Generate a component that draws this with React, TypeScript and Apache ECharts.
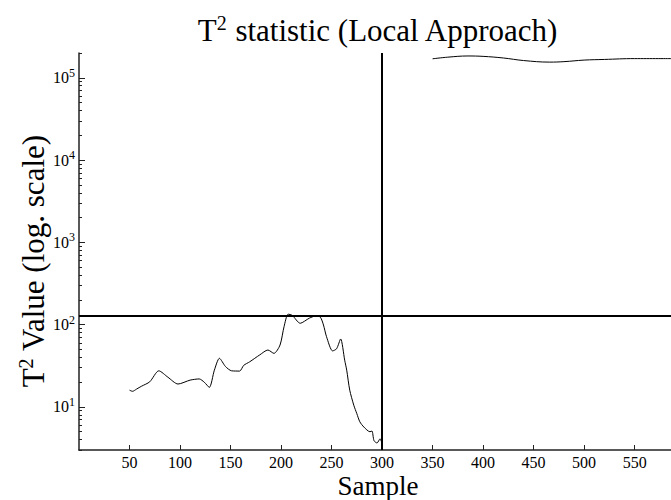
import React, { useEffect, useRef } from "react";
import * as echarts from "echarts";

// ---- data ----
const xTickValues = [50, 100, 150, 200, 250, 300, 350, 400, 450, 500, 550];
const yMajorTicks = [10, 100, 1000, 10000, 100000];
const xRange = [0, 586];
const yRange = [3, 200000];

const earlySamples = [
  50, 53, 57, 62, 70, 79, 88, 98, 110, 119, 124, 129, 134, 139, 145, 151, 159, 163, 169, 179,
  187, 193, 199, 203, 207, 211, 219, 228, 235, 239, 242, 245, 251, 255, 259, 263, 265, 268, 272,
  275, 278, 282, 288, 290, 292, 295, 298, 300,
];
const earlyValues = [
  16, 15.5, 16.5, 17.9, 20.2, 27.5, 23, 19, 21.2, 21.9, 20, 17.3, 28, 39, 31, 27.5, 27.3, 32, 35.4, 43,
  49.2, 44.8, 56.6, 95, 134, 130, 104, 120, 128, 123, 99, 71.5, 48, 51, 67, 37, 28, 16, 10.5,
  8.3, 6.6, 5.7, 5.0, 5.1, 3.9, 3.65, 4.1, 3.6,
];

const lateSamples = [350, 365, 385, 400, 420, 440, 466, 480, 500, 520, 550, 586];
const lateValues = [170000, 178000, 184000, 182000, 174000, 162000, 155000, 157000, 164000, 167000, 171000, 171000];

const thresholdValue = [127];
const faultSample = [300];

const titleText = ["T", "2", " statistic (Local Approach)"];
const xName = "Sample";
const yNameText = ["T", "2", " Value (log. scale)"];

const FONT = "Liberation Serif";

function minorLogTicks(lo: number, hi: number): number[] {
  const out: number[] = [];
  for (let d = 1; d <= 100000; d *= 10) {
    for (let m = 2; m <= 9; m++) {
      const v = m * d;
      if (v >= lo && v <= hi) out.push(v);
    }
  }
  return out;
}

export default function App() {
  const ref = useRef<HTMLDivElement>(null);

  useEffect(() => {
    if (!ref.current) return;
    const chart = echarts.init(ref.current, null, { renderer: "svg" });

    const supLabel = (v: number) => `{base|10}{sup|${Math.round(Math.log10(v))}}`;

    const option: any = {
      animation: false,
      backgroundColor: "#fff",
      grid: { left: 79, right: 0, top: 53, bottom: 50, containLabel: false },
      xAxis: {
        type: "value",
        min: xRange[0],
        max: xRange[1],
        splitLine: { show: false },
        axisLine: { show: true, onZero: false, lineStyle: { color: "#222", width: 1.5 } },
        axisTick: {
          show: true,
          inside: true,
          length: 5,
          customValues: xTickValues,
          lineStyle: { color: "#222", width: 1 },
        },
        axisLabel: {
          customValues: xTickValues,
          fontFamily: FONT,
          fontSize: 16,
          lineHeight: 16,
          color: "#000",
          margin: 4,
        },
      },
      yAxis: [
        {
          type: "log",
          position: "left",
          min: yRange[0],
          max: yRange[1],
          splitLine: { show: false },
          axisLine: { show: true, onZero: false, lineStyle: { color: "#222", width: 1.5 } },
          axisTick: {
            show: true,
            inside: true,
            length: 6,
            customValues: yMajorTicks,
            lineStyle: { color: "#222", width: 1 },
          },
          axisLabel: {
            customValues: yMajorTicks,
            formatter: supLabel,
            margin: 4,
            color: "#000",
            fontFamily: FONT,
            fontSize: 16,
            rich: {
              base: { fontFamily: FONT, fontSize: 16, color: "#000" },
              sup: { fontFamily: FONT, fontSize: 12, color: "#000", padding: [0, 0, 10, 0] },
            },
          },
        },
        {
          type: "log",
          position: "left",
          offset: 0,
          min: yRange[0],
          max: yRange[1],
          splitLine: { show: false },
          axisLine: { show: false },
          axisLabel: { show: false },
          axisTick: {
            show: true,
            inside: true,
            length: 3,
            customValues: minorLogTicks(yRange[0], yRange[1]),
            lineStyle: { color: "#222", width: 1 },
          },
        },
      ],
      series: [
        {
          type: "line",
          yAxisIndex: 0,
          data: earlySamples.map((s, i) => [s, earlyValues[i]]),
          showSymbol: false,
          smooth: 0.25,
          lineStyle: { color: "#000", width: 1 },
          markLine: {
            silent: true,
            symbol: "none",
            label: { show: false },
            lineStyle: { color: "#000", width: 2, type: "solid" },
            data: [{ yAxis: thresholdValue[0] }, { xAxis: faultSample[0] }],
          },
        },
        {
          type: "line",
          yAxisIndex: 0,
          data: lateSamples.map((s, i) => [s, lateValues[i]]),
          showSymbol: false,
          smooth: 0.4,
          lineStyle: { color: "#000", width: 1 },
        },
      ],
      graphic: [
        {
          type: "text",
          x: 378,
          y: 30,
          style: {
            text: `{t|${titleText[0]}}{s|${titleText[1]}}{t|${titleText[2]}}`,
            fill: "#000",
            align: "center",
            verticalAlign: "middle",
            rich: {
              t: { fontFamily: FONT, fontSize: 31, fill: "#000" },
              s: { fontFamily: FONT, fontSize: 20, fill: "#000", padding: [0, 0, 14, 0] },
            },
          },
        },
        {
          type: "text",
          x: 378,
          y: 486,
          style: {
            text: xName,
            fill: "#000",
            fontFamily: FONT,
            fontSize: 27,
            lineHeight: 18,
            align: "center",
            verticalAlign: "middle",
          },
        },
        {
          type: "text",
          x: 33,
          y: 261,
          rotation: Math.PI / 2,
          style: {
            text: `{t|${yNameText[0]}}{s|${yNameText[1]}}{t|${yNameText[2]}}`,
            fill: "#000",
            align: "center",
            verticalAlign: "middle",
            rich: {
              t: { fontFamily: FONT, fontSize: 31, fill: "#000" },
              s: { fontFamily: FONT, fontSize: 20, fill: "#000", padding: [0, 0, 14, 0] },
            },
          },
        },
      ],
    };

    chart.setOption(option);
    return () => chart.dispose();
  }, []);

  return (
    <div
      ref={ref}
      style={{ position: "absolute", left: 0, top: 0, width: 671, height: 500, background: "#fff" }}
    />
  );
}
